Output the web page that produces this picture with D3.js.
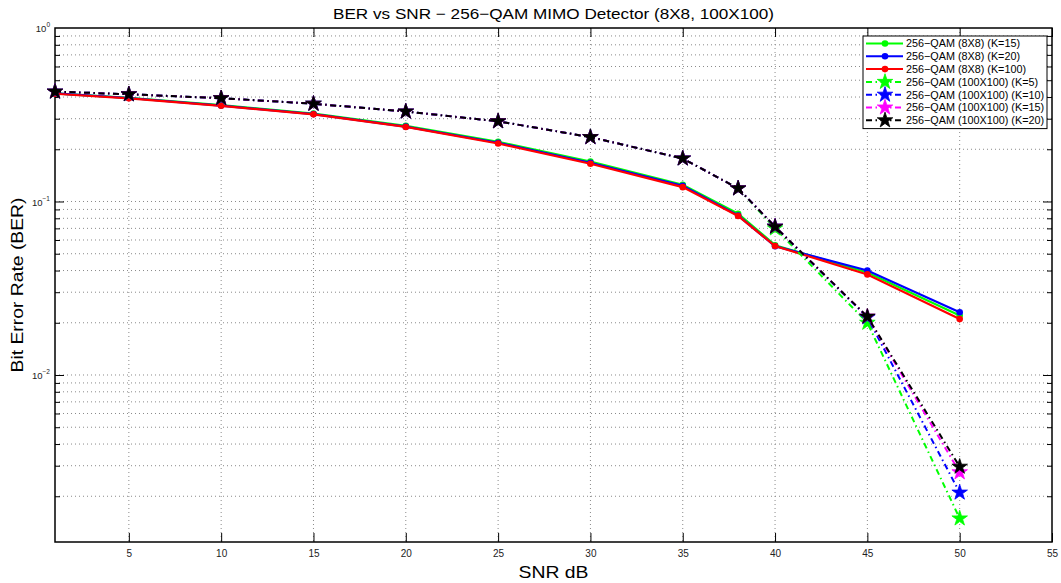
<!DOCTYPE html>
<html>
<head>
<meta charset="utf-8">
<script src="https://cdn.jsdelivr.net/npm/d3@7"></script>
<style>
  body { margin: 0; background: #fff; }
  text { font-family: "Liberation Sans", Arial, sans-serif; }
</style>
</head>
<body>
<div id="chart"></div>
<script>
// chart data
var snr = [1, 5, 10, 15, 20, 25, 30, 35, 38, 40, 45, 50];

var ber8k15  = [0.420, 0.396, 0.359, 0.321, 0.273, 0.221, 0.170, 0.125, 0.085, 0.0560, 0.0390, 0.0220];
var ber8k20  = [0.420, 0.395, 0.357, 0.319, 0.270, 0.218, 0.167, 0.123, 0.083, 0.0553, 0.0400, 0.0230];
var ber8k100 = [0.418, 0.393, 0.356, 0.318, 0.269, 0.216, 0.165, 0.121, 0.0825, 0.0554, 0.0380, 0.0210];

var ber100k5  = [0.430, 0.415, 0.394, 0.366, 0.330, 0.290, 0.235, 0.177, 0.119, 0.0700, 0.0200, 0.00149];
var ber100k10 = [0.430, 0.415, 0.394, 0.366, 0.330, 0.290, 0.235, 0.177, 0.119, 0.0716, 0.0215, 0.00210];
var ber100k15 = [0.430, 0.415, 0.394, 0.366, 0.330, 0.290, 0.235, 0.177, 0.119, 0.0716, 0.0217, 0.00275];
var ber100k20 = [0.430, 0.415, 0.394, 0.366, 0.330, 0.290, 0.235, 0.177, 0.119, 0.0716, 0.0217, 0.00296];

var xTicks = [5, 10, 15, 20, 25, 30, 35, 40, 45, 50, 55];
var yDecades = [1, 0.1, 0.01];

var seriesNames = ["256\u2212QAM (8X8) (K=15)", "256\u2212QAM (8X8) (K=20)", "256\u2212QAM (8X8) (K=100)",
  "256\u2212QAM (100X100) (K=5)", "256\u2212QAM (100X100) (K=10)", "256\u2212QAM (100X100) (K=15)", "256\u2212QAM (100X100) (K=20)"];
var seriesValues = [ber8k15, ber8k20, ber8k100, ber100k5, ber100k10, ber100k15, ber100k20];
var seriesColors = ["#00ff00", "#0000ff", "#ff0000", "#00ff00", "#0000ff", "#ff00ff", "#000000"];

// svg size
var svgWidth = 1061;
var svgHeight = 583;
var margin = {top: 28, right: 9, bottom: 41, left: 55};
var chartWidth = svgWidth - margin.left - margin.right;
var chartHeight = svgHeight - margin.top - margin.bottom;

var svg = d3.select("#chart")
  .append("svg")
    .attr("width", svgWidth)
    .attr("height", svgHeight);

var chartGroup = svg.append("g")
  .attr("transform", `translate(${margin.left}, ${margin.top})`);

var x = d3.scaleLinear()
  .domain([1, 55])
  .range([0, chartWidth]);

var y = d3.scaleLog()
  .domain([0.00109, 1])
  .range([chartHeight, 0]);

// minor log ticks inside the domain
var minorTicks = [];
[0.001, 0.01, 0.1].forEach(function(dec) {
  for (var k = 1; k <= 9; k++) {
    var v = dec * k;
    if (v >= y.domain()[0] && v <= 1) minorTicks.push(v);
  }
});

// grid
var gridGroup = chartGroup.append("g");
gridGroup.selectAll("line.ygrid")
  .data(minorTicks)
  .enter()
  .append("line")
    .attr("x1", 0)
    .attr("x2", chartWidth)
    .attr("y1", d => y(d))
    .attr("y2", d => y(d))
    .attr("stroke", "#8a8a8a")
    .attr("stroke-width", 1)
    .attr("stroke-dasharray", "1,3");

gridGroup.selectAll("line.xgrid")
  .data(xTicks.filter(d => d < 55))
  .enter()
  .append("line")
    .attr("x1", d => x(d))
    .attr("x2", d => x(d))
    .attr("y1", 0)
    .attr("y2", chartHeight)
    .attr("stroke", "#8a8a8a")
    .attr("stroke-width", 1)
    .attr("stroke-dasharray", "1,3");

// axes, ticks drawn inward like matlab
var bottomAxis = d3.axisBottom(x).tickValues(xTicks).tickSizeInner(-9).tickSizeOuter(0).tickPadding(8);
var topAxis = d3.axisTop(x).tickValues(xTicks).tickSizeInner(-9).tickSizeOuter(0).tickFormat("");
var leftAxis = d3.axisLeft(y).tickValues(minorTicks).tickSizeInner(0).tickSizeOuter(0).tickFormat("");
var rightAxis = d3.axisRight(y).tickValues(minorTicks).tickSizeInner(0).tickSizeOuter(0).tickFormat("");

var gBottom = chartGroup.append("g")
  .attr("transform", `translate(0, ${chartHeight})`)
  .call(bottomAxis);
var gTop = chartGroup.append("g").call(topAxis);
var gLeft = chartGroup.append("g").call(leftAxis);
var gRight = chartGroup.append("g")
  .attr("transform", `translate(${chartWidth}, 0)`)
  .call(rightAxis);

[gBottom, gTop, gLeft, gRight].forEach(function(g) {
  g.select(".domain").remove();
  g.selectAll("line").attr("stroke", "#000").attr("stroke-width", 1);
});
gBottom.selectAll("text")
  .attr("font-size", "10px")
  .attr("fill", "#222")
  .attr("font-family", "Liberation Sans, Arial, sans-serif");

// log tick marks: longer for decades
gLeft.selectAll(".tick line").attr("x2", d => yDecades.indexOf(d) >= 0 ? 9 : 5);
gRight.selectAll(".tick line").attr("x2", d => yDecades.indexOf(d) >= 0 ? -9 : -5);

// box
chartGroup.append("rect")
  .attr("x", 0)
  .attr("y", 0)
  .attr("width", chartWidth)
  .attr("height", chartHeight)
  .attr("fill", "none")
  .attr("stroke", "#000")
  .attr("stroke-width", 1.5);

// y decade labels 10^n
var yLab = chartGroup.selectAll("text.ylab")
  .data(yDecades)
  .enter()
  .append("text")
    .attr("x", -5)
    .attr("y", d => y(d) + 4.3)
    .attr("text-anchor", "end")
    .attr("font-size", "9.5px")
    .attr("fill", "#222");
yLab.append("tspan").text("10");
yLab.append("tspan")
  .attr("dy", -5)
  .attr("font-size", "6.5px")
  .text(d => Math.round(Math.log10(d)) === 0 ? "0" : "\u2212" + Math.abs(Math.round(Math.log10(d))));

// lines
var line = d3.line()
  .x((d, i) => x(snr[i]))
  .y(d => y(d));

var star = d3.symbol().type(d3.symbolStar).size(75);

seriesValues.forEach(function(vals, s) {
  var dashed = s >= 3;
  chartGroup.append("path")
    .datum(vals)
    .attr("d", line)
    .attr("fill", "none")
    .attr("stroke", seriesColors[s])
    .attr("stroke-width", dashed ? 2 : 2.2)
    .attr("stroke-dasharray", dashed ? "6,3.5,1.5,3.5" : null);

  if (dashed) {
    chartGroup.selectAll(null)
      .data(vals)
      .enter()
      .append("path")
        .attr("d", star)
        .attr("transform", (d, i) => `translate(${x(snr[i])}, ${y(d)})`)
        .attr("fill", seriesColors[s])
        .attr("stroke", seriesColors[s])
        .attr("stroke-width", 0.8);
  } else {
    chartGroup.selectAll(null)
      .data(vals)
      .enter()
      .append("circle")
        .attr("cx", (d, i) => x(snr[i]))
        .attr("cy", d => y(d))
        .attr("r", 3.3)
        .attr("fill", seriesColors[s]);
  }
});

// legend
var legX = 863, legY = 36, legW = 184, rowH = 12.8;
var legend = svg.append("g");
legend.append("rect")
  .attr("x", legX)
  .attr("y", legY)
  .attr("width", legW)
  .attr("height", rowH * 7 + 3)
  .attr("fill", "#fff")
  .attr("stroke", "#000")
  .attr("stroke-width", 1);

seriesNames.forEach(function(name, s) {
  var cy = legY + 7.5 + s * rowH;
  var dashed = s >= 3;
  legend.append("line")
    .attr("x1", legX + 3)
    .attr("x2", legX + 40)
    .attr("y1", cy)
    .attr("y2", cy)
    .attr("stroke", seriesColors[s])
    .attr("stroke-width", 2)
    .attr("stroke-dasharray", dashed ? "6,3.5,1.5,3.5" : null);
  if (dashed) {
    legend.append("path")
      .attr("d", star)
      .attr("transform", `translate(${legX + 22}, ${cy})`)
      .attr("fill", seriesColors[s])
      .attr("stroke", seriesColors[s])
      .attr("stroke-width", 0.8);
  } else {
    legend.append("circle")
      .attr("cx", legX + 22)
      .attr("cy", cy)
      .attr("r", 3.3)
      .attr("fill", seriesColors[s]);
  }
  legend.append("text")
    .attr("x", legX + 43)
    .attr("y", cy + 3.8)
    .attr("font-size", "10.8px")
    .attr("fill", "#000")
    .text(name);
});

// title and axis labels
svg.append("text")
  .attr("x", margin.left + chartWidth / 2)
  .attr("y", 19)
  .attr("text-anchor", "middle")
  .attr("font-size", "15px")
  .attr("textLength", 441)
  .attr("lengthAdjust", "spacingAndGlyphs")
  .attr("fill", "#000")
  .text("BER vs SNR \u2212 256\u2212QAM MIMO Detector (8X8, 100X100)");

svg.append("text")
  .attr("x", margin.left + chartWidth / 2)
  .attr("y", 578)
  .attr("text-anchor", "middle")
  .attr("font-size", "16.5px")
  .attr("textLength", 70)
  .attr("lengthAdjust", "spacingAndGlyphs")
  .attr("fill", "#000")
  .text("SNR dB");

svg.append("text")
  .attr("transform", "rotate(-90)")
  .attr("x", -(margin.top + chartHeight / 2))
  .attr("y", 23)
  .attr("text-anchor", "middle")
  .attr("font-size", "16.5px")
  .attr("textLength", 175)
  .attr("lengthAdjust", "spacingAndGlyphs")
  .attr("fill", "#000")
  .text("Bit Error Rate (BER)");
</script>
</body>
</html>
